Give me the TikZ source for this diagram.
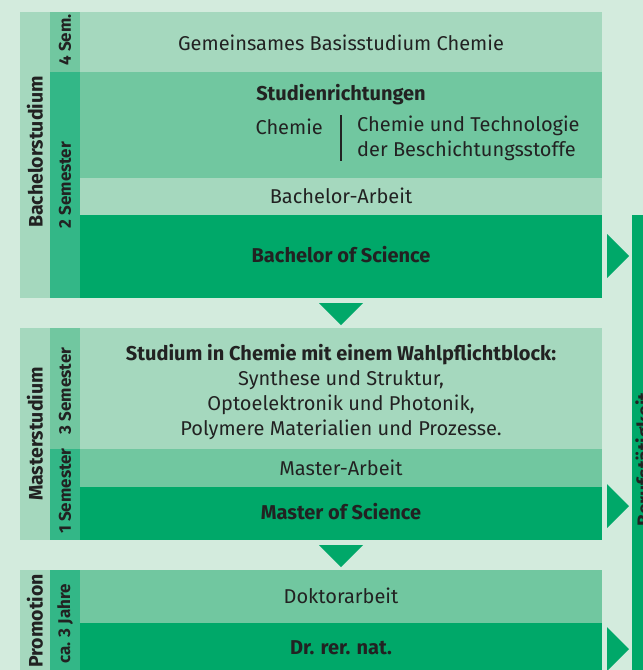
\documentclass[tikz,border=0pt]{standalone}
\usepackage{fontspec}
\setmainfont{Fira Sans}
\usetikzlibrary{calc}

\definecolor{bgmint}{HTML}{D3EBDD}
\definecolor{pale}{HTML}{A5D8BE}
\definecolor{mid}{HTML}{71C7A0}
\definecolor{semcol}{HTML}{33B787}
\definecolor{deep}{HTML}{00A869}
\definecolor{ink}{HTML}{222222}

% triangles pointing down / right, tip size 22
\def\downtri(#1,#2){\fill[deep] (#1-22,#2) -- (#1+22,#2) -- (#1,#2+22) -- cycle;}
\def\righttri(#1,#2){\fill[deep] (#1,#2-22) -- (#1,#2+22) -- (#1+22,#2) -- cycle;}

\tikzset{
  txt/.style={font=\fontsize{20}{25}\selectfont, text=ink, align=center, inner sep=0pt},
  bld/.style={txt, font=\fontsize{20}{25}\selectfont\bfseries},
  side/.style={font=\fontsize{19.5}{22}\selectfont\bfseries, text=ink, rotate=90, inner sep=0pt},
  sem/.style={font=\fontsize{17}{18}\selectfont\bfseries, text=ink, rotate=90, inner sep=0pt}
}

\begin{document}
\begin{tikzpicture}[x=1pt, y=-1pt]
			%%%%% START %%%%%
			\useasboundingbox (0, 0) rectangle (643, 670);
			\clip (0, 0) rectangle (643, 670);
			\fill[bgmint] (0, 0) rectangle (643, 670);
			
			%% Bachelor
			\fill[pale] (20, 12) rectangle (50, 298);
			\fill[mid] (50, 12) rectangle (80, 72);
			\fill[semcol] (50, 72) rectangle (80, 298);
			\fill[pale] (80, 12) rectangle (602, 72);
			\fill[mid] (80, 72) rectangle (602, 178);
			\fill[pale] (80, 178) rectangle (602, 215);
			\fill[deep] (80, 215) rectangle (602, 298);
			
			\node[side] (bsc) at (35, 152) {Bachelorstudium};
			\node[sem] (bsem1) at (65, 40) {4 Sem.};
			\node[sem] (bsem2) at (65, 185) {2 Semester};
			
			\node[txt] (basis) at (341, 43) {Gemeinsames Basisstudium Chemie};
			\node[bld] (richt) at (341, 95) {Studienrichtungen};
			\node[txt, anchor=east] (chem) at (323, 127) {Chemie};
			\draw[ink, line width=1.2pt] (341, 115) -- (341, 161);
			\node[txt, anchor=north west, align=left] (ctb) at (357, 116) {Chemie und Technologie\\der Beschichtungsstoffe};
			\node[txt] (barb) at (341, 196) {Bachelor-Arbeit};
			\node[bld] (bos) at (341, 255) {Bachelor of Science};
			
			\downtri(341, 303)
			
			%% Master
			\fill[pale] (20, 328) rectangle (50, 540);
			\fill[mid] (50, 328) rectangle (80, 449);
			\fill[semcol] (50, 449) rectangle (80, 540);
			\fill[pale] (80, 328) rectangle (602, 449);
			\fill[mid] (80, 449) rectangle (602, 487);
			\fill[deep] (80, 487) rectangle (602, 540);
			
			\node[side] (msc) at (35, 434) {Masterstudium};
			\node[sem] (msem1) at (65, 391) {3 Semester};
			\node[sem] (msem2) at (65, 491) {1 Semester};
			
			\node[txt] (wahl) at (341, 392) {\textbf{Studium in Chemie mit einem Wahlpflichtblock:}\\Synthese und Struktur,\\Optoelektronik und Photonik,\\Polymere Materialien und Prozesse.};
			\node[txt] (marb) at (341, 468) {Master-Arbeit};
			\node[bld] (mos) at (341, 512) {Master of Science};
			
			\downtri(341, 545)
			
			%% Promotion
			\fill[pale] (20, 570) rectangle (50, 680);
			\fill[semcol] (50, 570) rectangle (80, 680);
			\fill[mid] (80, 570) rectangle (602, 623);
			\fill[deep] (80, 623) rectangle (602, 680);
			
			\node[side] (prom) at (35, 621) {Promotion};
			\node[sem] (psem) at (65, 624) {ca. 3 Jahre};
			
			\node[txt] (dok) at (341, 596) {Doktorarbeit};
			\node[bld] (drn) at (341, 648) {Dr. rer. nat.};
			
			%% way out to the job
			\righttri(607, 256)
			\righttri(607, 506)
			\righttri(607, 649)
			
			\fill[deep] (632, 215) rectangle (660, 680);
			\node[side, anchor=base west] (beruf) at (651, 527) {Berufstätigkeit};
			%%%%% END %%%%%
		\end{tikzpicture}
\end{document}
